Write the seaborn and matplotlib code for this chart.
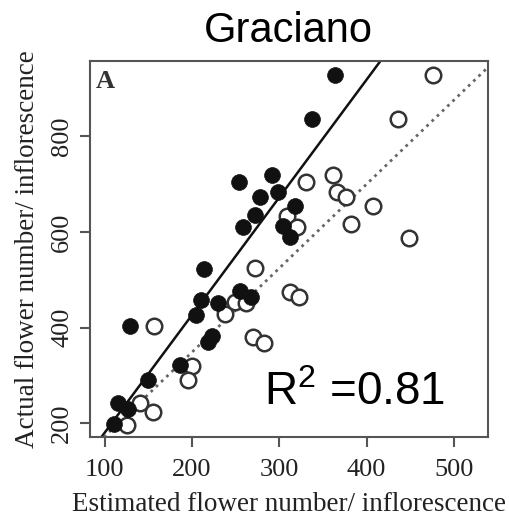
import pandas as pd
import numpy as np
import seaborn as sns
import matplotlib.pyplot as plt

# Points (fleurs estimées vs réelles)
filled_est = [364, 338, 254, 292, 298, 278, 272, 258, 318, 304, 312,
              214, 129, 210, 205, 230, 255, 268, 218, 223, 186, 150, 115, 127, 111]
filled_act = [929, 837, 705, 719, 684, 673, 636, 611, 654, 613, 589,
              523, 403, 458, 427, 452, 477, 464, 370, 382, 321, 290, 243, 229, 198]

open_est = [476, 436, 331, 361, 366, 376, 407, 382, 309, 320, 448,
            272, 157, 238, 249, 262, 312, 322, 270, 283, 200, 196, 141, 155, 126]
open_act = [929, 837, 705, 719, 684, 673, 654, 617, 633, 610, 587,
            524, 403, 429, 453, 451, 474, 463, 381, 367, 320, 291, 243, 223, 196]

# droites de régression (pente, ordonnée)
fit_filled = (2.464, -66.5)
fit_open = (1.76, -3.6)

x_ticks = [100, 200, 300, 400, 500]
y_ticks = [200, 400, 600, 800]

df_filled = pd.DataFrame({"est": filled_est, "act": filled_act})
df_open = pd.DataFrame({"est": open_est, "act": open_act})

sns.set_style("white")
plt.rcParams["mathtext.fontset"] = "custom"
plt.rcParams["mathtext.rm"] = "Liberation Sans"
plt.rcParams["mathtext.it"] = "Liberation Sans"

fig = plt.figure(figsize=(5.1, 5.23), dpi=100)
ax = fig.add_axes([0.176, 0.1644, 0.781, 0.719])

sns.scatterplot(data=df_open, x="est", y="act", ax=ax, s=125,
                facecolor="white", edgecolor="#333333", linewidth=1.8, zorder=3)
sns.scatterplot(data=df_filled, x="est", y="act", ax=ax, s=130,
                color="#111111", edgecolor="#111111", linewidth=0.5, zorder=4)

ax.axline((0, fit_filled[1]), slope=fit_filled[0], color="#111111", lw=1.8, zorder=2)
ax.axline((0, fit_open[1]), slope=fit_open[0], color="#666666", lw=2.0,
          linestyle=(0, (1.0, 1.6)), zorder=2)

ax.set_xlim(83, 539)
ax.set_ylim(171, 958)
ax.set_xticks(x_ticks)
ax.set_yticks(y_ticks)

serif = "Liberation Serif"
ax.set_xticklabels([str(v) for v in x_ticks], fontfamily=serif, fontsize=19, color="#222222")
ax.set_yticklabels([str(v) for v in y_ticks], fontfamily=serif, fontsize=19, color="#222222",
                   rotation=90, va="center")
ax.tick_params(axis="x", direction="out", length=7, width=1.5, color="#555555",
               bottom=True, pad=9)
ax.tick_params(axis="y", direction="out", length=7, width=1.5, color="#555555",
               left=True, pad=5)

for sp in ax.spines.values():
    sp.set_color("#555555")
    sp.set_linewidth(1.5)

ax.set_xlabel("Estimated flower number/ inflorescence", fontfamily=serif, fontsize=19.5,
              color="#222222", labelpad=8)
ax.set_ylabel("Actual flower number/ inflorescence", fontfamily=serif, fontsize=19.5,
              color="#222222", labelpad=8)

ax.text(0.015, 0.975, "A", transform=ax.transAxes, fontfamily=serif, fontsize=19,
        fontweight="bold", color="#333333", va="top", ha="left")
ax.text(283, 238, "R$^2$ =0.81", fontfamily="Liberation Sans", fontsize=33, color="black",
        va="baseline", ha="left")

fig.text(0.565, 0.94, "Graciano", fontfamily="Liberation Sans", fontsize=30,
         color="black", ha="center", va="center")

fig.savefig("out.png", dpi=100)
